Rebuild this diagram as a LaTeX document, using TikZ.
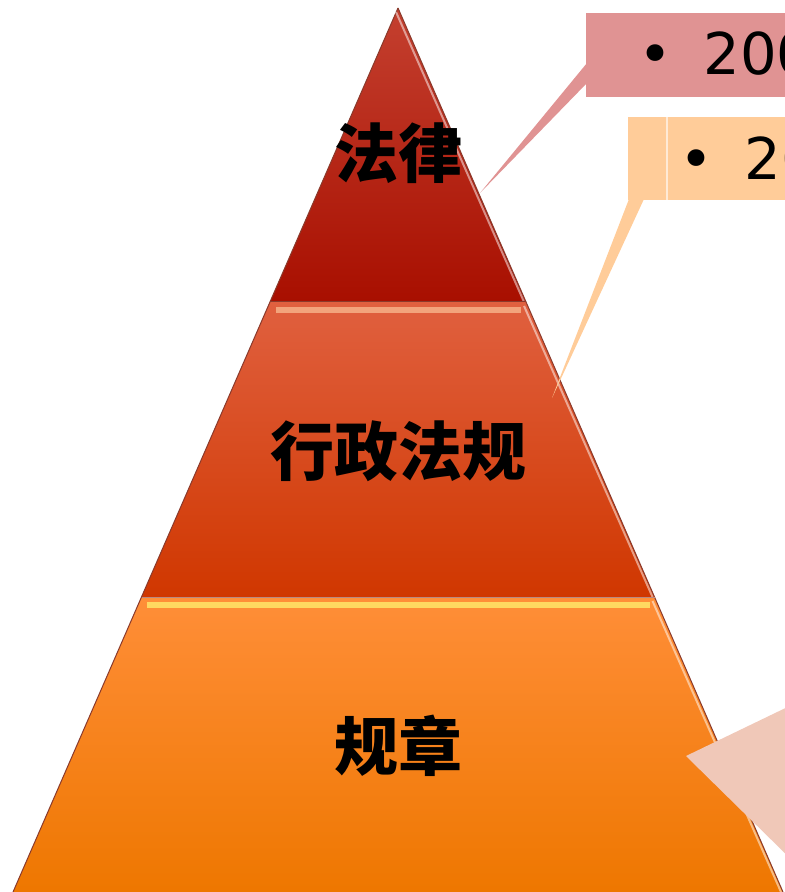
\documentclass[tikz,border=0pt]{standalone}
\usepackage{fontspec}
\setmainfont{DejaVu Sans}
\newfontfamily\cjk{Noto Sans CJK SC Black}
\definecolor{lawtop}{HTML}{C4402F}
\definecolor{lawbot}{HTML}{A80F00}
\definecolor{admtop}{HTML}{E0603F}
\definecolor{admbot}{HTML}{D03700}
\definecolor{ruletop}{HTML}{FF8E38}
\definecolor{rulemid}{HTML}{FF8300}
\definecolor{rulebot}{HTML}{EE7700}
\definecolor{calloutA}{HTML}{E09393}
\definecolor{calloutB}{HTML}{FFCC99}
\definecolor{calloutC}{HTML}{F0C8B8}
\definecolor{tieredge}{HTML}{8A3A2C}
\tikzset{
  tierlabel/.style={font=\cjk\fontsize{32}{32}\selectfont,text=black},
  itemtext/.style={font=\fontsize{28.8}{30}\selectfont,text=black,inner sep=0pt}
}
\begin{document}
\begin{tikzpicture}[x=0.5pt,y=-0.5pt]
\useasboundingbox (0,0) rectangle (785,892);
\clip (0,0) rectangle (785,892);

% Pyramid tiers
\foreach \top/\bot/\ctop/\cmid/\cbot in {
  8/302/lawtop/lawtop!50!lawbot/lawbot,
  302/597/admtop/admtop!50!admbot/admbot,
  597/892/ruletop/rulemid/rulebot} {
  \shade[top color=\ctop,middle color=\cmid,bottom color=\cbot]
    ({398-0.4355*(\top-8)},\top) -- ({398+0.4355*(\top-8)},\top)
    -- ({398+0.4355*(\bot-8)},\bot) -- ({398-0.4355*(\bot-8)},\bot) -- cycle;
  \draw[tieredge,line width=0.5pt] ({398-0.4355*(\top-8)},\top) -- ({398-0.4355*(\bot-8)},\bot);
  \draw[tieredge,line width=0.5pt] ({398+0.4355*(\top-8)},\top) -- ({398+0.4355*(\bot-8)},\bot);
  \draw[white,opacity=0.5,line width=1pt] ({396+0.4355*(\top-8)},\top+4) -- ({396+0.4355*(\bot-8)},\bot);
}

% Highlights at the top of the lower tiers
\draw[line width=3pt,color=orange!35!white,opacity=0.6] (276,310) -- (521,310);
\draw[line width=3pt,color=yellow!55!white,opacity=0.7] (147,605) -- (650,605);
\draw[tieredge,line width=0.5pt] (270,302) -- (526,302);
\draw[tieredge!60,line width=0.5pt] (142,597) -- (655,597);

% Tier labels
\node[tierlabel] (falv) at (398,153) {法律};
\node[tierlabel] (xingzheng) at (398,451) {行政法规};
\node[tierlabel] (guizhang) at (398,746) {规章};

% Callouts
\fill[calloutA] (586,13) rectangle (800,97);
\fill[calloutA] (587,63) -- (480,193) -- (587,83) -- cycle;
\fill[calloutB] (628,117) rectangle (800,200);
\fill[calloutB] (629,199) -- (552,398) -- (644,199) -- cycle;
\draw[white,opacity=0.6,line width=0.6pt] (667,117) -- (667,200);
\fill[calloutC] (686,756) -- (800,701) -- (800,868) -- cycle;

% Callout items
\node[itemtext,anchor=base] (bulletA) at (655,75) {•};
\node[itemtext,anchor=base west] (itemA) at (703,75) {200};
\node[itemtext,anchor=base] (bulletB) at (696,180) {•};
\node[itemtext,anchor=base west] (itemB) at (744,180) {20};

\end{tikzpicture}
\end{document}
